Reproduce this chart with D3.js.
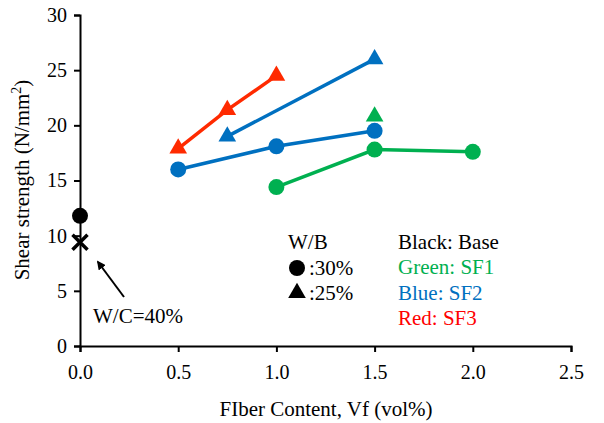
<!DOCTYPE html>
<html>
<head>
<meta charset="utf-8">
<script src="https://cdn.jsdelivr.net/npm/d3@7"></script>
<style>
  html, body { margin: 0; padding: 0; background: #fff; }
</style>
</head>
<body>
<svg id="chart" width="604" height="423"></svg>
<script>
// Fiber content (vol%) and shear strength (N/mm²) per series
const xTicks = [0, 0.5, 1.0, 1.5, 2.0, 2.5];
const yTicks = [0, 5, 10, 15, 20, 25, 30];

const baseCircle = [[0, 11.8]];
const baseCross = [[0, 9.4]];

const sf1Circle = [[1.0, 14.4], [1.5, 17.8], [2.0, 17.6]];
const sf1Triangle = [[1.5, 20.8]];

const sf2Circle = [[0.5, 16.0], [1.0, 18.1], [1.5, 19.5]];
const sf2Triangle = [[0.75, 19.0], [1.5, 26.0]];

const sf3Triangle = [[0.5, 17.9], [0.75, 21.4], [1.0, 24.5]];

const colors = { base: "#000000", sf1: "#00b050", sf2: "#0070c0", sf3: "#ff2a00" };

const series = [
  { data: sf1Circle, shape: "circle", color: colors.sf1, line: true },
  { data: sf1Triangle, shape: "triangle", color: colors.sf1, line: false },
  { data: sf2Circle, shape: "circle", color: colors.sf2, line: true },
  { data: sf2Triangle, shape: "triangle", color: colors.sf2, line: true },
  { data: sf3Triangle, shape: "triangle", color: colors.sf3, line: true },
  { data: baseCircle, shape: "circle", color: colors.base, line: false }
];

const FONT = `"Liberation Serif"`;
const TXT = 21;

const svg = d3.select("#chart");
const x = d3.scaleLinear().domain([0, 2.5]).range([80, 571]);
const y = d3.scaleLinear().domain([0, 30]).range([346, 15]);

// Plain text helper with the serif face
function label(parent, px, py, str, size, fill) {
  return parent.append("text").attr("x", px).attr("y", py).attr("font-size", size)
    .attr("fill", fill || "#000").style("font-family", FONT).text(str);
}

// Axes
const xAxis = svg.append("g").attr("transform", `translate(0,${y(0)})`)
  .call(d3.axisBottom(x).tickValues(xTicks).tickFormat(d3.format(".1f")).tickSizeOuter(0).tickSize(6).tickPadding(13));
const yAxis = svg.append("g").attr("transform", `translate(${x(0)},0)`)
  .call(d3.axisLeft(y).tickValues(yTicks).tickFormat(d3.format("d")).tickSizeOuter(0).tickSize(6).tickPadding(7));
[xAxis, yAxis].forEach(g => {
  g.attr("font-size", 20);
  g.select(".domain").attr("stroke", "#000").attr("stroke-width", 2);
  g.selectAll(".tick line").attr("stroke", "#000").attr("stroke-width", 2);
  g.selectAll(".tick text").attr("fill", "#000").attr("font-size", 20).style("font-family", FONT);
});

// Axis titles
label(svg, 326, 416, "FIber Content, Vf (vol%)", TXT).attr("text-anchor", "middle");
const yl = svg.append("text").attr("transform", "translate(29,180) rotate(-90)")
  .attr("text-anchor", "middle").attr("font-size", TXT).style("font-family", FONT);
yl.append("tspan").text("Shear strength (N/mm");
yl.append("tspan").attr("font-size", 14).attr("dy", -8).text("2");
yl.append("tspan").attr("dy", 8).text(")");

// Series lines and markers
const line = d3.line().x(d => x(d[0])).y(d => y(d[1]));
const tri = d3.symbol().type(d3.symbolTriangle).size(135);
series.forEach(s => {
  if (s.line && s.data.length > 1) {
    svg.append("path").attr("d", line(s.data)).attr("fill", "none")
      .attr("stroke", s.color).attr("stroke-width", 3.5);
  }
  s.data.forEach(d => {
    if (s.shape === "circle") {
      svg.append("circle").attr("cx", x(d[0])).attr("cy", y(d[1])).attr("r", 8).attr("fill", s.color);
    } else {
      svg.append("path").attr("d", tri).attr("transform", `translate(${x(d[0])},${y(d[1])})`).attr("fill", s.color);
    }
  });
});

// Base W/C=40% cross marker
baseCross.forEach(d => {
  const cx = x(d[0]), cy = y(d[1]), r = 7.5;
  svg.append("path").attr("d", `M${cx - r},${cy - r}L${cx + r},${cy + r}M${cx - r},${cy + r}L${cx + r},${cy - r}`)
    .attr("stroke", "#000").attr("stroke-width", 3.5).attr("fill", "none");
});

// Annotation arrow and label
svg.append("defs").append("marker").attr("id", "ah").attr("viewBox", "0 0 10 10")
  .attr("refX", 8).attr("refY", 5).attr("markerWidth", 4.5).attr("markerHeight", 4.5)
  .attr("orient", "auto").append("path").attr("d", "M0,0L10,5L0,10z").attr("fill", "#000");
svg.append("line").attr("x1", 124).attr("y1", 297).attr("x2", 98).attr("y2", 262)
  .attr("stroke", "#000").attr("stroke-width", 2).attr("marker-end", "url(#ah)");
label(svg, 93, 323, "W/C=40%", TXT);

// Legend
const lg = svg.append("g");
label(lg, 288, 249, "W/B", TXT);
lg.append("circle").attr("cx", 297).attr("cy", 268).attr("r", 8).attr("fill", "#000");
label(lg, 309, 275, ":30%", TXT);
lg.append("path").attr("d", tri).attr("transform", "translate(297,293)").attr("fill", "#000");
label(lg, 309, 300, ":25%", TXT);

const names = [["Black: Base", colors.base], ["Green: SF1", colors.sf1], ["Blue: SF2", colors.sf2], ["Red: SF3", "#ff0000"]];
names.forEach((n, i) => label(lg, 398, 249 + i * 25.3, n[0], TXT, n[1]));
</script>
</body>
</html>
